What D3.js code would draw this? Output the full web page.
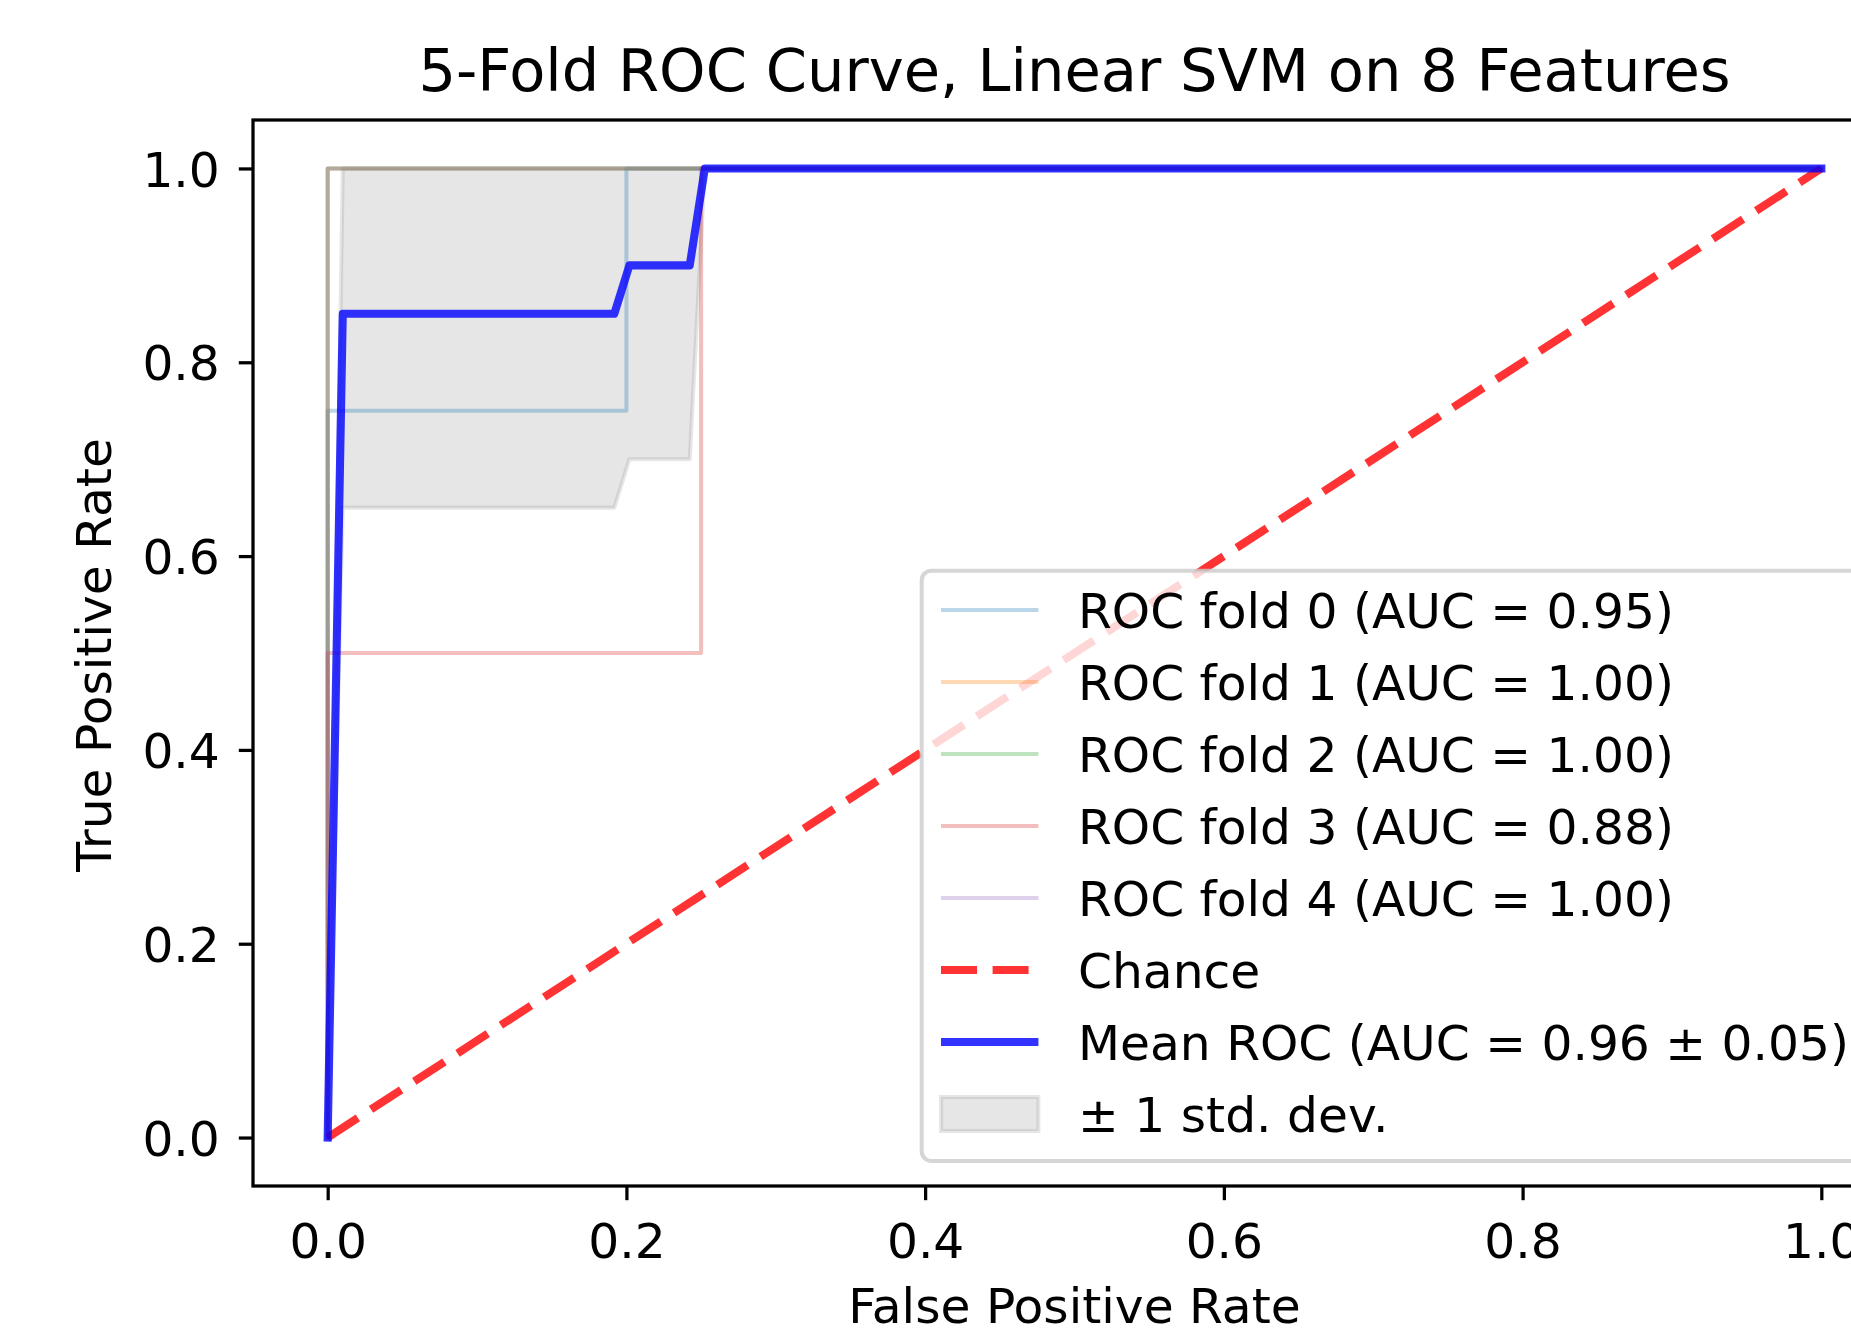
<!DOCTYPE html>
<html>
<head>
<meta charset="utf-8">
<script src="https://cdn.jsdelivr.net/npm/d3@7"></script>
<style>
  body { margin: 0; background: #fff; }
  text { font-family: "DejaVu Sans", sans-serif; fill: #000; }
</style>
</head>
<body>
<div id="chart"></div>
<script>
// Fold ROC curves (fpr / tpr breakpoints)
var foldFpr = [
    [0, 0, 0.2, 0.2, 1],
    [0, 0, 1],
    [0, 0, 1],
    [0, 0, 0.25, 0.25, 1],
    [0, 0, 1]
];
var foldTpr = [
    [0, 0.75, 0.75, 1, 1],
    [0, 1, 1],
    [0, 1, 1],
    [0, 0.5, 0.5, 1, 1],
    [0, 1, 1]
];
var foldAuc = ["0.95", "1.00", "1.00", "0.88", "1.00"];

// Mean ROC and the +/- 1 std band
var meanFpr = [0, 0.0101, 0.1919, 0.2020, 0.2424, 0.2525, 1.0];
var meanTpr = [0, 0.85, 0.85, 0.90, 0.90, 1.0, 1.0];
var stdLower = [0, 0.65, 0.65, 0.70, 0.70, 1.0, 1.0];
var stdUpper = [0, 1.0, 1.0, 1.0, 1.0, 1.0, 1.0];
var meanAuc = "0.96";
var stdAuc = "0.05";

// Chance diagonal
var chanceFpr = [0, 1];
var chanceTpr = [0, 1];

var xTicks = [0, 0.2, 0.4, 0.6, 0.8, 1.0];
var yTicks = [0, 0.2, 0.4, 0.6, 0.8, 1.0];

var foldColors = ["#1f77b4", "#ff7f0e", "#2ca02c", "#d62728", "#9467bd"];

// SVG drawing area (axes box runs past the right edge, like the original)
var W = 1851, H = 1335;
var box = {left: 253, top: 120, right: 1896, bottom: 1186};
var fs = 48.7;      // tick / label / legend font size
var lw1 = 4.05;     // 1pt
var lw2 = 8.1;      // 2pt
var dash = "36,15.6";

var svg = d3.select("#chart").append("svg")
    .attr("width", W)
    .attr("height", H)
    .style("display", "block");

svg.append("rect").attr("width", W).attr("height", H).attr("fill", "#fff");

//Scales
var xScale = d3.scaleLinear().domain([-0.05, 1.05]).range([box.left, box.right]);
var yScale = d3.scaleLinear().domain([-0.05, 1.05]).range([box.bottom, box.top]);

// std band (drawn under the lines)
var band = meanFpr.map(function(d, i) { return {x: d, lo: stdLower[i], hi: stdUpper[i]}; });
svg.append("path")
    .datum(band)
    .attr("d", d3.area()
        .x(function(d) { return xScale(d.x); })
        .y0(function(d) { return yScale(d.lo); })
        .y1(function(d) { return yScale(d.hi); }))
    .attr("fill", "#808080")
    .attr("fill-opacity", 0.2)
    .attr("stroke", "#808080")
    .attr("stroke-opacity", 0.2)
    .attr("stroke-width", lw1)
    .attr("stroke-linejoin", "round");

var line = d3.line()
    .x(function(d) { return xScale(d[0]); })
    .y(function(d) { return yScale(d[1]); });

// fold curves
foldFpr.forEach(function(fpr, k) {
    var pts = fpr.map(function(d, i) { return [d, foldTpr[k][i]]; });
    svg.append("path")
        .attr("class", "fold")
        .attr("d", line(pts))
        .attr("fill", "none")
        .attr("stroke", foldColors[k])
        .attr("stroke-opacity", 0.3)
        .attr("stroke-width", lw1)
        .attr("stroke-linejoin", "round")
        .attr("stroke-linecap", "square");
});

// chance
svg.append("path")
    .attr("d", line(chanceFpr.map(function(d, i) { return [d, chanceTpr[i]]; })))
    .attr("fill", "none")
    .attr("stroke", "#ff0000")
    .attr("stroke-opacity", 0.8)
    .attr("stroke-width", lw2)
    .attr("stroke-dasharray", dash);

// mean
svg.append("path")
    .attr("d", line(meanFpr.map(function(d, i) { return [d, meanTpr[i]]; })))
    .attr("fill", "none")
    .attr("stroke", "#0000ff")
    .attr("stroke-opacity", 0.8)
    .attr("stroke-width", lw2)
    .attr("stroke-linejoin", "round")
    .attr("stroke-linecap", "square");

//Axes
var xAxis = d3.axisBottom(xScale)
    .tickValues(xTicks)
    .tickFormat(d3.format(".1f"))
    .tickSizeInner(14.2)
    .tickSizeOuter(0)
    .tickPadding(23);
var yAxis = d3.axisLeft(yScale)
    .tickValues(yTicks)
    .tickFormat(d3.format(".1f"))
    .tickSizeInner(14.2)
    .tickSizeOuter(0)
    .tickPadding(19);

var gx = svg.append("g")
    .attr("transform", "translate(0," + box.bottom + ")")
    .call(xAxis);
var gy = svg.append("g")
    .attr("transform", "translate(" + box.left + ",0)")
    .call(yAxis);

[gx, gy].forEach(function(g) {
    g.select(".domain").remove();
    g.selectAll(".tick line").attr("stroke", "#000").attr("stroke-width", 3.25);
    g.selectAll(".tick text")
        .attr("font-family", "DejaVu Sans")
        .attr("font-size", fs)
        .attr("fill", "#000");
});
gy.selectAll(".tick text").attr("dy", "0.36em");

// spines
svg.append("rect")
    .attr("x", box.left)
    .attr("y", box.top)
    .attr("width", box.right - box.left)
    .attr("height", box.bottom - box.top)
    .attr("fill", "none")
    .attr("stroke", "#000")
    .attr("stroke-width", 3.25)
    .attr("stroke-linecap", "square");

// labels
svg.append("text")
    .attr("x", (box.left + box.right) / 2)
    .attr("y", 91)
    .attr("text-anchor", "middle")
    .attr("font-size", 59.1)
    .text("5-Fold ROC Curve, Linear SVM on 8 Features");

svg.append("text")
    .attr("x", (box.left + box.right) / 2)
    .attr("y", 1323)
    .attr("text-anchor", "middle")
    .attr("font-size", fs)
    .text("False Positive Rate");

svg.append("text")
    .attr("transform", "translate(111," + 655 + ")rotate(-90)")
    .attr("text-anchor", "middle")
    .attr("font-size", fs)
    .text("True Positive Rate");

// Legend
var leg = svg.append("g").attr("class", "legend");
leg.append("rect")
    .attr("x", 921.7)
    .attr("y", 570.7)
    .attr("width", 1872 - 921.7)
    .attr("height", 1161 - 570.7)
    .attr("rx", 9.7)
    .attr("fill", "#fff")
    .attr("fill-opacity", 0.8)
    .attr("stroke", "#cccccc")
    .attr("stroke-opacity", 0.8)
    .attr("stroke-width", lw1);

var items = foldAuc.map(function(a, i) {
    return {label: "ROC fold " + i + " (AUC = " + a + ")", type: "fold", k: i};
});
items.push({label: "Chance", type: "chance"});
items.push({label: "Mean ROC (AUC = " + meanAuc + " \u00b1 " + stdAuc + ")", type: "mean"});
items.push({label: "\u00b1 1 std. dev.", type: "band"});

var hx0 = 941, hx1 = 1038.4, rowY0 = 610, rowStep = 72;
items.forEach(function(d, i) {
    var y = rowY0 + i * rowStep;
    if (d.type === "band") {
        leg.append("rect")
            .attr("x", hx0).attr("y", y - 17)
            .attr("width", hx1 - hx0).attr("height", 34)
            .attr("fill", "#808080").attr("fill-opacity", 0.2)
            .attr("stroke", "#808080").attr("stroke-opacity", 0.2)
            .attr("stroke-width", lw1);
    } else {
        var l = leg.append("line")
            .attr("x1", hx0).attr("x2", hx1)
            .attr("y1", y).attr("y2", y);
        if (d.type === "fold") {
            l.attr("stroke", foldColors[d.k]).attr("stroke-opacity", 0.3).attr("stroke-width", lw1);
        } else if (d.type === "chance") {
            l.attr("stroke", "#ff0000").attr("stroke-opacity", 0.8).attr("stroke-width", lw2)
                .attr("stroke-dasharray", dash);
        } else {
            l.attr("stroke", "#0000ff").attr("stroke-opacity", 0.8).attr("stroke-width", lw2);
        }
    }
    leg.append("text")
        .attr("x", 1078)
        .attr("y", y + 17.7)
        .attr("font-size", fs)
        .text(d.label);
});
</script>
</body>
</html>
